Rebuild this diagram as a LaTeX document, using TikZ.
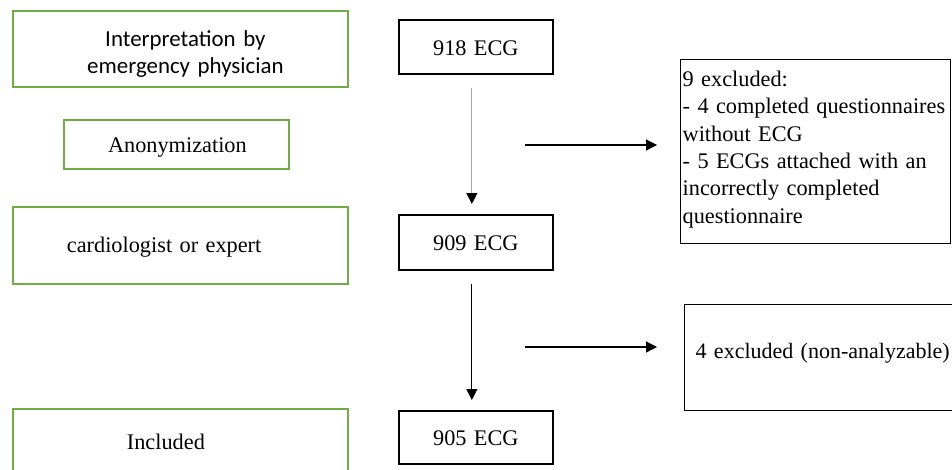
\documentclass[tikz,border=0pt]{standalone}
\usepackage{fontspec}
\setmainfont{Liberation Serif}
\newfontfamily\calib{Carlito}
\usetikzlibrary{arrows.meta}
\definecolor{ogreen}{RGB}{112,173,71}
\begin{document}
\begin{tikzpicture}[x=1pt,y=-1pt,
  serif/.style={font=\fontsize{22.3}{25.7}\selectfont},
  gbox/.style={draw=ogreen,line width=1.8pt,rectangle,inner sep=0pt,serif,anchor=north west},
  kbox/.style={draw=black,line width=1.7pt,rectangle,inner sep=0pt,serif,anchor=north west,
     text width=154pt,align=center},
  xbox/.style={draw=black,line width=1.3pt,rectangle,serif,align=left,anchor=north west},
  arr/.style={line width=1.2pt,-{Triangle[length=11pt,width=11pt,color=black]}}]
\clip (0,0) rectangle (952,469);
\useasboundingbox (0,0) rectangle (952,469);
% green boxes
\node[gbox,text width=335pt,align=center,font=\calib\fontsize{22.9}{27}\selectfont,
      text height=35.7pt,text depth=40.3pt] (g1) at (12,10)
      {\hspace*{10pt}Interpretation by\\\hspace*{10pt}emergency physician};
\node[gbox,text width=225pt,align=center,text height=32.7pt,text depth=16.3pt] (g2) at (63,119)
      {\hspace*{2pt}Anonymization};
\node[gbox,text width=281pt,inner xsep=27pt,align=left,text height=46pt,text depth=31pt] (g3) at (12,206)
      {\hspace*{27pt}cardiologist or expert};
\node[gbox,text width=219pt,inner xsep=58pt,align=left,text height=41pt,text depth=29pt] (g4) at (12,408)
      {\hspace*{56pt}Included};
% count boxes
\node[kbox,text height=35.3pt,text depth=18.7pt] (n918) at (398,19) {918 ECG};
\node[kbox,text height=36pt,text depth=19pt] (n909) at (398,214) {909 ECG};
\node[kbox,text height=35pt,text depth=18pt] (n905) at (398,410) {905 ECG};
% exclusion boxes
\node[xbox,text width=266pt,inner xsep=2pt,inner ysep=0pt,text height=27pt,text depth=157pt,
      font=\fontsize{22.3}{27.3}\selectfont] (ex1) at (680,59)
{\mbox{9 excluded:}\\\mbox{- 4 completed questionnaires}\\\mbox{without ECG}\\\mbox{- 5 ECGs attached with an}\\\mbox{incorrectly completed}\\\mbox{questionnaire}};
\node[xbox,text width=262pt,inner xsep=11pt,inner ysep=0pt,text height=54pt,text depth=52pt,
      font=\fontsize{22}{25}\selectfont] (ex2) at (684,304)
{\mbox{4 excluded (non-analyzable)}};
% vertical arrows
\draw[arr,draw=gray!70] ([xshift=-4pt,yshift=-13pt]n918.south) -- ([xshift=-4pt,yshift=10pt]n909.north);
\draw[arr] ([xshift=-4pt,yshift=-13pt]n909.south) -- ([xshift=-4pt,yshift=10pt]n905.north);
% horizontal arrows
\coordinate (h1) at (525,145);
\coordinate (h2) at (525,347);
\draw[arr,shorten >=23pt] (h1) -- (h1 -| ex1.west);
\draw[arr,shorten >=27pt] (h2) -- (h2 -| ex2.west);
\end{tikzpicture}
\end{document}
